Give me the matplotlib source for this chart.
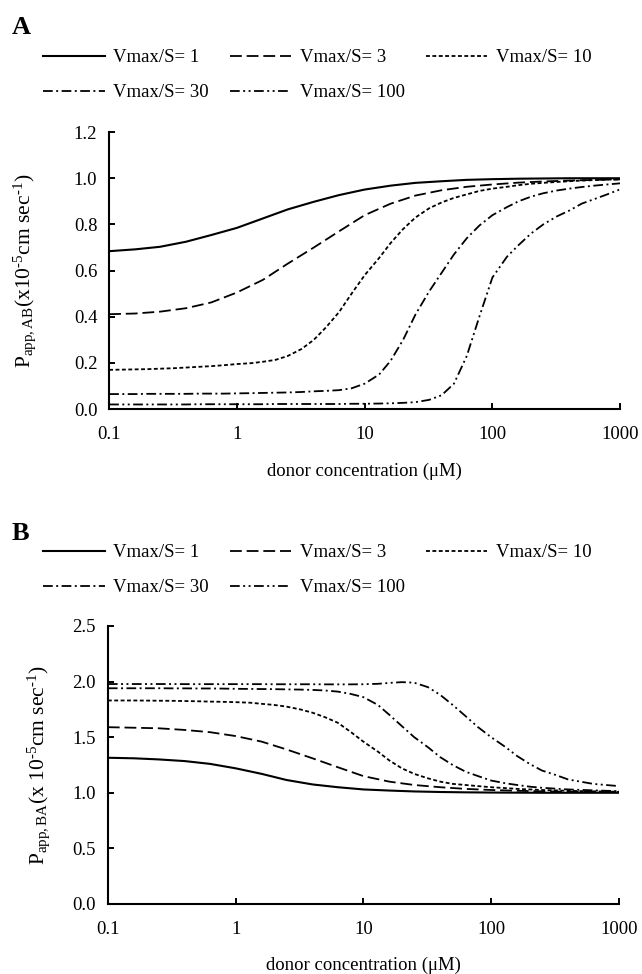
import matplotlib
matplotlib.use('Agg')
import matplotlib.pyplot as plt

plt.rcParams['font.family'] = ['Liberation Serif', 'DejaVu Serif']
plt.rcParams['mathtext.fontset'] = 'custom'
plt.rcParams['mathtext.rm'] = 'Liberation Serif'
plt.rcParams['mathtext.it'] = 'Liberation Serif:italic'
plt.rcParams['lines.scale_dashes'] = False

# donor concentration (uM): coarse grid for the gentle curves, fine grid for the steep ones
conc = [0.1, 0.16, 0.25, 0.4, 0.63, 1, 1.6, 2.5, 4, 6.3, 10, 16, 25, 40, 63,
        100, 160, 250, 400, 630, 1000]
conc_fine = [0.1, 0.13, 0.16, 0.2, 0.25, 0.32, 0.4, 0.5, 0.63, 0.79, 1,
             1.3, 1.6, 2, 2.5, 3.2, 4, 5, 6.3, 7.9, 10,
             13, 16, 20, 25, 32, 40, 50, 63, 79, 100,
             130, 160, 200, 250, 320, 400, 500, 630, 790, 1000]

labels = ['Vmax/S= 1', 'Vmax/S= 3', 'Vmax/S= 10', 'Vmax/S= 30', 'Vmax/S= 100']

# panel A: Papp,AB
ab_1 = [0.684, 0.692, 0.703, 0.725, 0.754, 0.785, 0.826, 0.865, 0.898, 0.927, 0.951,
        0.968, 0.980, 0.987, 0.993, 0.996, 0.998, 0.999, 1.0, 1.0, 1.0]
ab_3 = [0.411, 0.414, 0.422, 0.437, 0.462, 0.505, 0.56, 0.63, 0.70, 0.77, 0.84,
        0.89, 0.925, 0.948, 0.963, 0.973, 0.981, 0.986, 0.99, 0.993, 0.995]
ab_10 = [0.17, 0.171, 0.172, 0.173, 0.175, 0.177, 0.18, 0.183, 0.186, 0.19, 0.195,
         0.199, 0.205, 0.213, 0.23, 0.26, 0.30, 0.355, 0.42, 0.50, 0.58,
         0.655, 0.72, 0.78, 0.83, 0.87, 0.895, 0.915, 0.93, 0.945, 0.955,
         0.963, 0.97, 0.976, 0.98, 0.984, 0.987, 0.99, 0.992, 0.994, 0.995]
ab_30 = [0.065, 0.065, 0.065, 0.066, 0.066, 0.066, 0.066, 0.067, 0.067, 0.067, 0.068,
         0.069, 0.07, 0.071, 0.072, 0.074, 0.077, 0.079, 0.082, 0.09, 0.11,
         0.15, 0.21, 0.30, 0.41, 0.51, 0.59, 0.67, 0.74, 0.795, 0.84,
         0.875, 0.90, 0.92, 0.935, 0.947, 0.955, 0.962, 0.968, 0.973, 0.978]
ab_100 = [0.02, 0.02, 0.02, 0.02, 0.02, 0.02, 0.02, 0.021, 0.021, 0.021, 0.021,
          0.021, 0.021, 0.022, 0.022, 0.022, 0.022, 0.022, 0.022, 0.023, 0.023,
          0.024, 0.025, 0.027, 0.03, 0.04, 0.06, 0.11, 0.23, 0.40, 0.57,
          0.66, 0.71, 0.76, 0.80, 0.835, 0.86, 0.89, 0.91, 0.93, 0.952]

# panel B: Papp,BA
ba_1 = [1.315, 1.31, 1.30, 1.285, 1.26, 1.22, 1.17, 1.115, 1.075, 1.05, 1.03,
        1.02, 1.012, 1.007, 1.004, 1.002, 1.001, 1.0, 1.0, 1.0, 1.0]
ba_3 = [1.59, 1.585, 1.58, 1.565, 1.545, 1.51, 1.46, 1.39, 1.31, 1.23, 1.15,
        1.10, 1.07, 1.05, 1.035, 1.025, 1.018, 1.013, 1.01, 1.008, 1.006]
ba_10 = [1.83, 1.83, 1.83, 1.829, 1.828, 1.827, 1.825, 1.823, 1.82, 1.818, 1.815,
         1.81, 1.80, 1.79, 1.775, 1.75, 1.72, 1.68, 1.63, 1.55, 1.46,
         1.37, 1.29, 1.22, 1.17, 1.13, 1.10, 1.08, 1.07, 1.06, 1.05,
         1.042, 1.035, 1.03, 1.025, 1.021, 1.018, 1.015, 1.013, 1.011, 1.01]
ba_30 = [1.94, 1.94, 1.94, 1.94, 1.94, 1.939, 1.939, 1.938, 1.938, 1.937, 1.935,
         1.934, 1.933, 1.932, 1.93, 1.928, 1.925, 1.92, 1.91, 1.89, 1.86,
         1.79, 1.70, 1.60, 1.50, 1.41, 1.32, 1.25, 1.19, 1.15, 1.11,
         1.085, 1.07, 1.055, 1.045, 1.037, 1.03, 1.026, 1.022, 1.018, 1.015]
ba_100 = [1.978, 1.978, 1.978, 1.978, 1.978, 1.978, 1.977, 1.977, 1.977, 1.977, 1.977,
          1.977, 1.977, 1.976, 1.976, 1.976, 1.976, 1.975, 1.975, 1.975, 1.976,
          1.98, 1.988, 1.995, 1.99, 1.95, 1.88, 1.79, 1.69, 1.59, 1.50,
          1.41, 1.33, 1.26, 1.20, 1.16, 1.12, 1.10, 1.08, 1.07, 1.06]

styles = [dict(ls='-', lw=1.5),
          dict(dashes=(8.5, 3.5), lw=1.3),
          dict(dashes=(2.8, 1.8), lw=1.3),
          dict(dashes=(7, 2.5, 1.4, 2.5), lw=1.3),
          dict(dashes=(7, 2.5, 1.4, 2.5, 1.4, 2.5), lw=1.3)]
xgrids = [conc, conc, conc_fine, conc_fine, conc_fine]

fig = plt.figure(figsize=(6.42, 9.74), dpi=100)
axA = fig.add_axes([0.170, 0.580, 0.796, 0.2844])
axB = fig.add_axes([0.168, 0.0719, 0.796, 0.2854])


def draw(ax, series, ylim, yticks, ylab, letter, leg_y, letter_y):
    lines = []
    for xs, ys, st in zip(xgrids, series, styles):
        ln, = ax.plot(xs, ys, color='black', **st)
        lines.append(ln)
    ax.set_xscale('log')
    ax.set_xlim(0.1, 1000)
    ax.set_ylim(*ylim)
    ax.set_xticks([0.1, 1, 10, 100, 1000])
    ax.set_xticklabels(['0.1', '1', '10', '100', '1000'])
    ax.minorticks_off()
    ax.set_yticks(yticks)
    ax.set_yticklabels(['%.1f' % v for v in yticks])
    ax.tick_params(direction='in', length=4.5, width=1.4, labelsize=13.5)
    ax.tick_params(axis='y', pad=8.5)
    ax.tick_params(axis='x', pad=12)
    for s in ['top', 'right']:
        ax.spines[s].set_visible(False)
    for s in ['left', 'bottom']:
        ax.spines[s].set_linewidth(1.5)
    ax.set_xlabel('donor concentration (μM)', fontsize=13.5, labelpad=14)
    ax.set_ylabel(ylab, fontsize=15.5)
    # legend laid out row by row
    order = [0, 3, 1, 4, 2]
    fig.legend([lines[i] for i in order], [labels[i] for i in order],
               loc='upper left', bbox_to_anchor=(43 / 642, 1 - leg_y / 974),
               ncol=3, frameon=False, fontsize=13.5, handlelength=3.3,
               handletextpad=0.45, columnspacing=1.1, labelspacing=0.95,
               borderpad=0, borderaxespad=0)
    fig.text(12 / 642, 1 - letter_y / 974, letter, fontsize=19, fontweight='bold',
             va='center', ha='left')


draw(axA, [ab_1, ab_3, ab_10, ab_30, ab_100], (0, 1.2),
     [0.0, 0.2, 0.4, 0.6, 0.8, 1.0, 1.2],
     r'P$_{\rm app,AB}$(x10$^{\text{-5}}$cm sec$^{\text{-1}}$)', 'A', 49, 28)
draw(axB, [ba_1, ba_3, ba_10, ba_30, ba_100], (0, 2.5),
     [0.0, 0.5, 1.0, 1.5, 2.0, 2.5],
     r'P$_{\rm app,BA}$(x 10$^{\text{-5}}$cm sec$^{\text{-1}}$)', 'B', 544, 533)

axA.yaxis.set_label_coords(-0.14, 0.5)
axB.yaxis.set_label_coords(-0.11, 0.5)

fig.savefig('out.png', dpi=100)
